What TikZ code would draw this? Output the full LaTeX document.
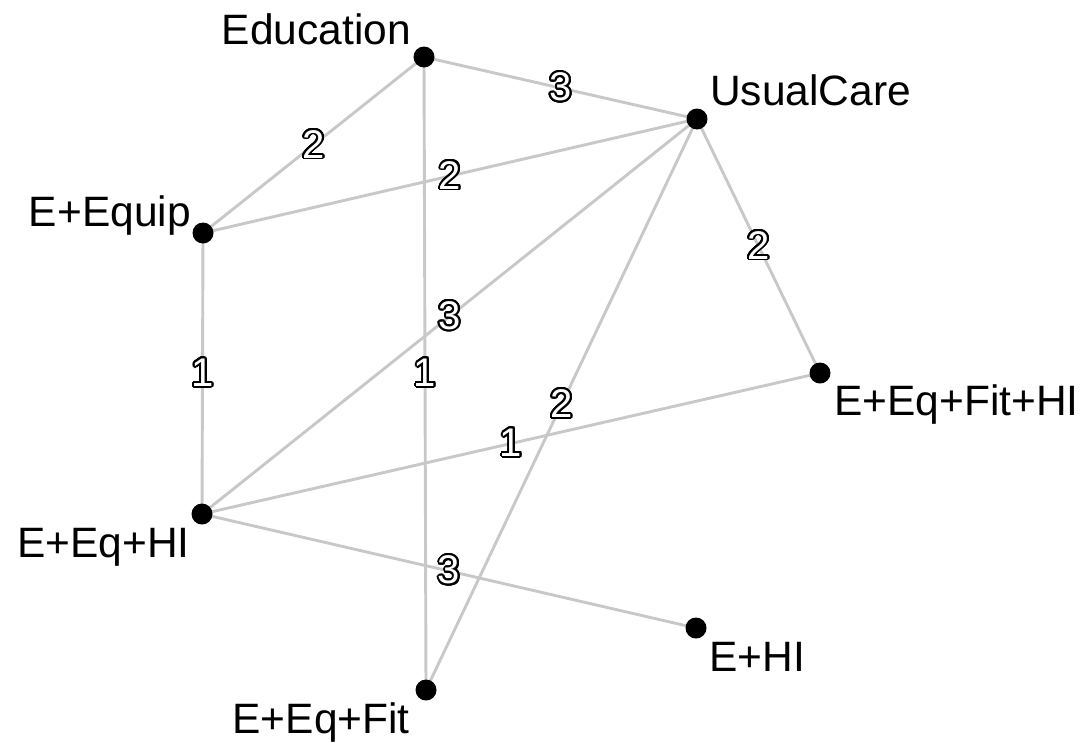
\documentclass[tikz,border=0pt]{standalone}
\usepackage{fontspec}
\setmainfont{Liberation Sans}
\usepackage{contour}
\contourlength{1.9pt}
\contournumber{24}
\usetikzlibrary{calc}
\definecolor{edgegray}{RGB}{200,200,200}
\tikzset{
  dot/.style={circle, fill=black, inner sep=0pt, minimum size=21pt},
  edge/.style={draw=edgegray, line width=2.9pt},
  nlab/.style={inner sep=0pt, font=\fontsize{42.5}{42.5}\selectfont},
  elab/.style={inner sep=0pt, midway, text=white, font=\fontsize{40}{40}\selectfont},
}
\newcommand\olab[1]{\contour{black}{#1}}
\begin{document}
\begin{tikzpicture}[x=1pt,y=-1pt]
\useasboundingbox (0,0) rectangle (1084,742);
% node positions
\coordinate (pedu) at (424,57);
\coordinate (puc) at (697,119);
\coordinate (peq) at (203,233);
\coordinate (pefh) at (820,373);
\coordinate (pehi) at (202,514);
\coordinate (pe) at (696,628);
\coordinate (pef) at (426,690);
% edges
\draw[edge] (pedu) -- node[elab]{\olab{3}} (puc);
\draw[edge] (pedu) -- node[elab]{\olab{2}} (peq);
\draw[edge] (pedu) -- node[elab]{\olab{1}} (pef);
\draw[edge] (peq) -- node[elab]{\olab{2}} (puc);
\draw[edge] (puc) -- node[elab]{\olab{2}} (pefh);
\draw[edge] (puc) -- node[elab]{\olab{3}} (pehi);
\draw[edge] (puc) -- node[elab]{\olab{2}} (pef);
\draw[edge] (peq) -- node[elab]{\olab{1}} (pehi);
\draw[edge] (pehi) -- node[elab]{\olab{1}} (pefh);
\draw[edge] (pehi) -- node[elab]{\olab{3}} (pe);
% dots
\node[dot] (edu) at (pedu) {};
\node[dot] (uc) at (puc) {};
\node[dot] (eq) at (peq) {};
\node[dot] (efh) at (pefh) {};
\node[dot] (ehi) at (pehi) {};
\node[dot] (e) at (pe) {};
\node[dot] (ef) at (pef) {};
% labels
\node[nlab, anchor=base east] (ledu) at (411,44) {Education};
\node[nlab, anchor=base west] (luc) at (710,105) {UsualCare};
\node[nlab, anchor=base east] (leq) at (191,226) {E+Equip};
\node[nlab, anchor=base west] (lefh) at (834,415) {E+Eq+Fit+HI};
\node[nlab, anchor=base east] (lehi) at (190,557) {E+Eq+HI};
\node[nlab, anchor=base west] (le) at (709,671) {E+HI};
\node[nlab, anchor=base east] (lef) at (410,733) {E+Eq+Fit};
\end{tikzpicture}
\end{document}
